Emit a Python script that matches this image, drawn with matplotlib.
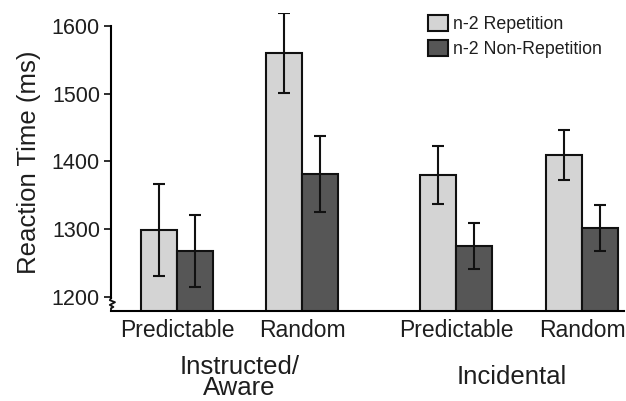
"""
n-2 repetition costs - reaction time by condition
"""

import matplotlib.pyplot as plt
from matplotlib.lines import Line2D
from matplotlib import transforms

plt.rcParams['font.family'] = ['Liberation Sans', 'DejaVu Sans']

conditions = ['Predictable', 'Random', 'Predictable', 'Random']
groups = ['Instructed/\nAware', 'Incidental']
series = ['n-2 Repetition', 'n-2 Non-Repetition']
rep_rt = [1298, 1560, 1380, 1410]
rep_err = [68, 59, 43, 37]
nonrep_rt = [1268, 1382, 1275, 1301]
nonrep_err = [53, 56, 34, 34]
yticks = [1200, 1300, 1400, 1500, 1600]

txt_color = '#1e1e1e'
light = '#d4d4d4'
dark = '#565656'


def draw_chart():
    fig = plt.figure(figsize=(6.26, 4.01), dpi=100)
    ax = fig.add_axes([0.1773, 0.2244, 0.8195, 0.7444])

    xs = [0, 1, 2.232, 3.24]
    w = 0.29
    err_kw = dict(ecolor='#111111', elinewidth=1.5, capsize=4, capthick=1.5)
    ax.bar([x - w / 2 for x in xs], rep_rt, w, yerr=rep_err,
           color=light, edgecolor='#111111', linewidth=1.5, error_kw=err_kw,
           label=series[0])
    ax.bar([x + w / 2 for x in xs], nonrep_rt, w, yerr=nonrep_err,
           color=dark, edgecolor='#111111', linewidth=1.5, error_kw=err_kw,
           label=series[1])

    ax.set_ylim(1179, 1620)
    ax.set_xlim(-0.528, 3.576)
    ax.set_yticks(yticks)
    ax.set_xticks(xs)
    ax.set_xticklabels(conditions)
    ax.tick_params(axis='x', length=0, pad=6, labelsize=16.5, colors=txt_color)
    ax.tick_params(axis='y', direction='out', length=5, width=1.3, pad=3,
                   labelsize=15.5, colors=txt_color)

    for s in ['top', 'right']:
        ax.spines[s].set_visible(False)
    ax.spines['bottom'].set_linewidth(1.5)
    ax.spines['left'].set_linewidth(1.5)
    ax.spines['left'].set_bounds(1198, 1600)

    # axis break mark
    trans = transforms.blended_transform_factory(ax.transAxes, ax.transData)
    dx = 4 / 513
    brk = Line2D([0, -dx * 0.3, dx, -dx * 0.3, dx * 0.6, 0, 0],
                 [1198, 1195, 1192, 1188, 1185, 1183, 1179],
                 transform=trans, color='#111111', lw=1.3, clip_on=False)
    ax.add_line(brk)

    ax.set_ylabel('Reaction Time (ms)', fontsize=18.5, color=txt_color, labelpad=8)

    # group labels under the tick labels
    gtrans = transforms.blended_transform_factory(ax.transData, fig.transFigure)
    ax.text((xs[0] + xs[1]) / 2, 0.058, groups[0], transform=gtrans, ha='center',
            va='center', fontsize=18.5, color=txt_color, linespacing=0.85)
    ax.text((xs[2] + xs[3]) / 2 - 0.06, 0.06, groups[1], transform=gtrans,
            ha='center', va='center', fontsize=18.5, color=txt_color)

    ax.legend(loc='upper left', bbox_to_anchor=(428 / 626, 1 - 15 / 401),
              bbox_transform=fig.transFigure, frameon=False, fontsize=12.8,
              handlelength=1.1, handleheight=1.0, handletextpad=0.3,
              labelspacing=0.4, borderpad=0, borderaxespad=0,
              labelcolor=txt_color)

    fig.savefig('out.png', dpi=100)


if __name__ == '__main__':
    draw_chart()
